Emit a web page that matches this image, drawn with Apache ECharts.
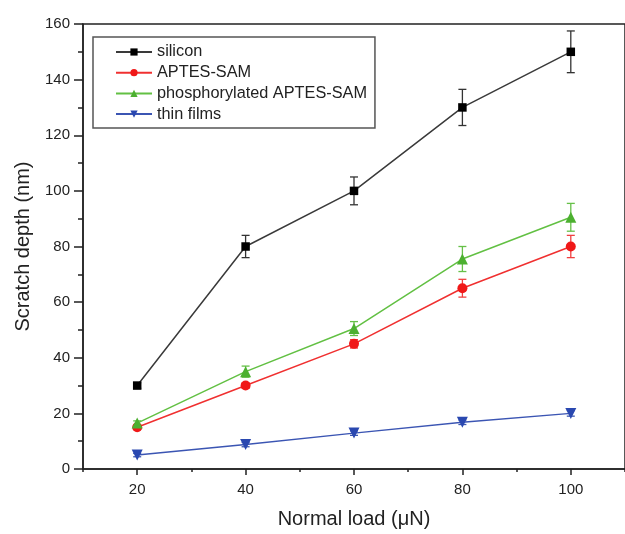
<!DOCTYPE html>
<html>
<head>
<meta charset="utf-8">
<script src="https://cdn.jsdelivr.net/npm/echarts@6/dist/echarts.min.js"></script>
<style>html,body{margin:0;padding:0;background:#fff;}#c{width:625px;height:534px;}</style>
</head>
<body>
<div id="c"></div>
<script>
const loads = [20, 40, 60, 80, 100];
const xTickLabels = [20, 40, 60, 80, 100];
const siliconVals = [30, 80, 100, 130, 150];
const siliconErr = [1, 4, 5, 6.5, 7.5];
const aptesVals = [15, 30, 45, 65, 80];
const aptesErr = [0.8, 1, 1.5, 3.2, 4];
const phosVals = [16.5, 35, 50.5, 75.5, 90.5];
const phosErr = [0.8, 2, 2.5, 4.5, 5];
const thinVals = [5, 8.8, 12.9, 16.8, 20];
const thinErr = [0.6, 0.8, 0.8, 0.8, 1];

const FONT = 'Liberation Sans';
const chart = echarts.init(document.getElementById('c'));

function pts(vals){ return loads.map((x,i)=>[x, vals[i]]); }
function errPts(vals, errs){ return loads.map((x,i)=>[x, vals[i], errs[i]]); }

function errSeries(vals, errs, color){
  return {
    type: 'custom',
    xAxisIndex: 0, yAxisIndex: 0,
    z: 1,
    silent: true,
    encode: {x: 0, y: 1},
    data: errPts(vals, errs),
    renderItem: function(params, api){
      const x = api.value(0), y = api.value(1), e = api.value(2);
      const t = api.coord([x, y + e]), b = api.coord([x, y - e]);
      const hw = 4;
      const st = {stroke: color, lineWidth: 1.3};
      return {type: 'group', children: [
        {type: 'line', shape: {x1: t[0], y1: t[1], x2: b[0], y2: b[1]}, style: st},
        {type: 'line', shape: {x1: t[0]-hw, y1: t[1], x2: t[0]+hw, y2: t[1]}, style: st},
        {type: 'line', shape: {x1: b[0]-hw, y1: b[1], x2: b[0]+hw, y2: b[1]}, style: st}
      ]};
    }
  };
}

function lineSeries(name, vals, lineColor, markColor, symbol, size){
  return {
    name: name,
    type: 'line',
    xAxisIndex: 0, yAxisIndex: 0,
    z: 3,
    data: pts(vals),
    symbol: symbol,
    symbolSize: size,
    lineStyle: {color: lineColor, width: 1.5},
    itemStyle: {color: markColor},
    emphasis: {disabled: true}
  };
}

const option = {
  animation: false,
  backgroundColor: '#fff',
  grid: {left: 83, top: 24, width: 551, height: 448, show: true, borderColor: '#222', borderWidth: 1.5, backgroundColor: 'transparent'},
  legend: {
    orient: 'vertical',
    left: 93, top: 37,
    padding: [7, 8, 6, 22],
    borderColor: '#555', borderWidth: 1.5,
    itemWidth: 36, itemHeight: 9, itemGap: 4.7,
    textStyle: {fontFamily: FONT, fontSize: 16.3, color: '#222'},
    data: ['silicon', 'APTES-SAM', 'phosphorylated APTES-SAM', 'thin films']
  },
  xAxis: [
    {
      type: 'value', min: 10, max: 110,
      name: 'Normal load (\u03bcN)', nameLocation: 'middle', nameGap: 40,
      nameTextStyle: {fontFamily: FONT, fontSize: 20, color: '#222'},
      axisLine: {show: true, onZero: false, lineStyle: {color: '#222', width: 1.5}},
      axisTick: {show: true, inside: false, length: 6, customValues: xTickLabels, lineStyle: {color: '#222', width: 1.5}},
      axisLabel: {customValues: xTickLabels, margin: 13, fontFamily: FONT, fontSize: 15, color: '#222'},
      splitLine: {show: false}
    },
    {
      type: 'value', min: 10, max: 110, interval: 20, position: 'bottom', offset: 0,
      axisLine: {show: false},
      axisTick: {show: true, length: 3, lineStyle: {color: '#222', width: 1.5}},
      axisLabel: {show: false},
      splitLine: {show: false}
    }
  ],
  yAxis: {
    type: 'value', min: 0, max: 160, interval: 20,
    name: 'Scratch depth (nm)', nameLocation: 'middle', nameGap: 50,
    nameTextStyle: {fontFamily: FONT, fontSize: 20, color: '#222'},
    axisLine: {show: true, lineStyle: {color: '#222', width: 1.5}},
    axisTick: {show: true, length: 9, lineStyle: {color: '#222', width: 1.5}},
    minorTick: {show: true, splitNumber: 2, length: 5, lineStyle: {color: '#222', width: 1.5}},
    axisLabel: {margin: 13, fontFamily: FONT, fontSize: 15, color: '#222'},
    splitLine: {show: false}
  },
  series: [
    errSeries(siliconVals, siliconErr, '#333'),
    errSeries(aptesVals, aptesErr, '#f04040'),
    errSeries(phosVals, phosErr, '#66c048'),
    errSeries(thinVals, thinErr, '#3a56b0'),
    lineSeries('silicon', siliconVals, '#3a3a3a', '#000', 'rect', 8.5),
    lineSeries('APTES-SAM', aptesVals, '#f03030', '#f01818', 'circle', 10),
    lineSeries('phosphorylated APTES-SAM', phosVals, '#62c043', '#4cb030', 'triangle', 11),
    lineSeries('thin films', thinVals, '#3b55b3', '#2a48b0', 'path://M0,0 L10,0 L5,9 Z', 11)
  ]
};
chart.setOption(option);
</script>
</body>
</html>
